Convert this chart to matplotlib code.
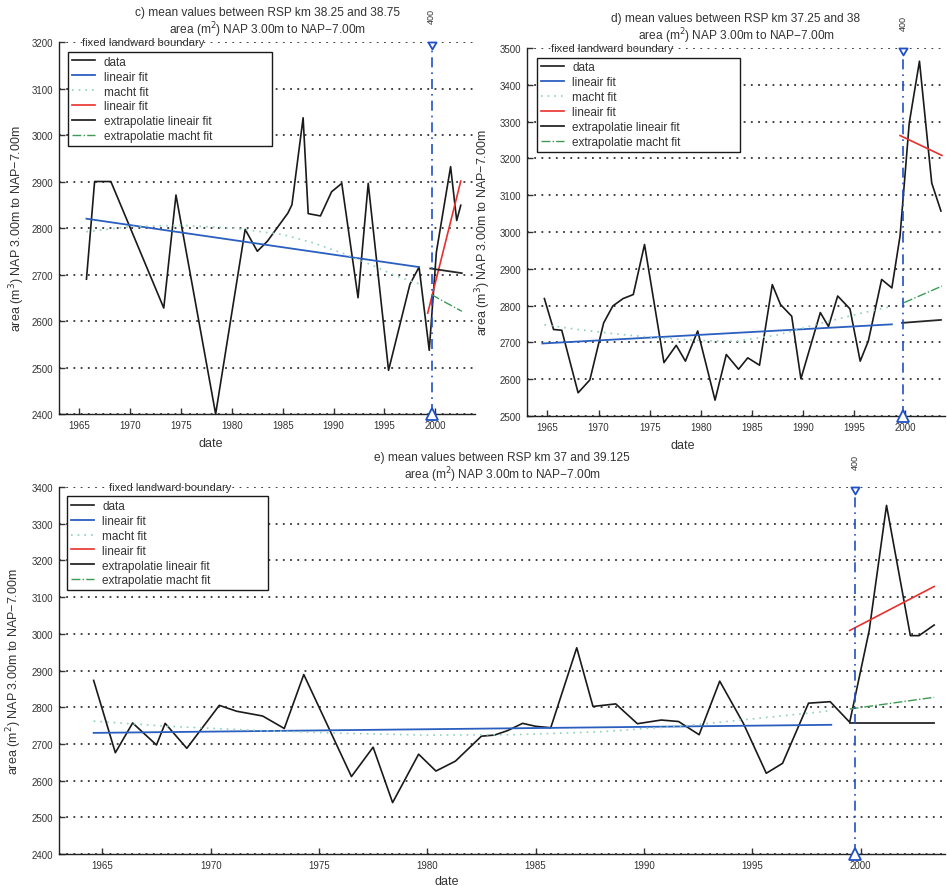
import matplotlib
matplotlib.use('Agg')
import matplotlib.pyplot as plt
import matplotlib.transforms as mtransforms
from matplotlib.path import Path

plt.rcParams['font.family'] = ['Liberation Sans', 'DejaVu Sans']

# ---------------- c) RSP km 38.25 - 38.75 ----------------
c_year = [1965.7, 1966.5, 1968.1, 1973.3, 1974.5, 1978.4, 1981.3, 1982.5, 1983.5,
          1985.5, 1985.9, 1987.0, 1987.5, 1988.7, 1989.8, 1990.8, 1992.4, 1993.4,
          1995.4, 1997.5, 1998.4, 1999.4, 2000.1, 2001.5, 2002.1, 2002.5]
c_area = [2690, 2900, 2900, 2628, 2871, 2400, 2797, 2750, 2772,
          2832, 2850, 3037, 2831, 2826, 2878, 2896, 2650, 2896,
          2494, 2679, 2716, 2537, 2748, 2932, 2816, 2849]
c_lin_x = [1965.7, 1998.4]
c_lin_y = [2820, 2716]
c_macht_x = [1965.7, 1970, 1975, 1980, 1985, 1988, 1991, 1994, 1996, 1998.4]
c_macht_y = [2792, 2803, 2806, 2800, 2786, 2768, 2745, 2718, 2698, 2680]
c_red_x = [1999.25, 2002.5]
c_red_y = [2617, 2901]
c_extlin_x = [1999.5, 2002.6]
c_extlin_y = [2713, 2703]
c_extmacht_x = [1999.6, 2001.0, 2002.6]
c_extmacht_y = [2657, 2640, 2621]

# ---------------- d) RSP km 37.25 - 38 ----------------
d_year = [1964.7, 1965.6, 1966.4, 1968.0, 1969.15, 1970.5, 1971.4, 1972.4, 1973.4,
          1974.5, 1976.4, 1977.6, 1978.5, 1979.7, 1981.4, 1982.5, 1983.7, 1984.6,
          1985.75, 1987.0, 1987.8, 1988.9, 1989.8, 1991.7, 1992.5, 1993.4, 1994.6,
          1995.6, 1996.4, 1997.7, 1998.7, 1999.5, 2000.4, 2001.4, 2002.6, 2003.5]
d_area = [2819, 2735, 2733, 2563, 2598, 2753, 2799, 2819, 2830,
          2966, 2645, 2692, 2649, 2731, 2543, 2667, 2627, 2658,
          2638, 2857, 2803, 2771, 2601, 2781, 2743, 2826, 2791,
          2649, 2704, 2871, 2848, 2989, 3296, 3464, 3133, 3057]
d_lin_x = [1964.5, 1998.7]
d_lin_y = [2697, 2749]
d_macht_x = [1964.7, 1968, 1972, 1976, 1980, 1983.5, 1987.5, 1991.5, 1995.5, 1998.7]
d_macht_y = [2748, 2735, 2722, 2712, 2705, 2703, 2720, 2750, 2778, 2798]
d_red_x = [1999.5, 2003.6]
d_red_y = [3262, 3208]
d_extlin_x = [1999.7, 2003.5]
d_extlin_y = [2753, 2761]
d_extmacht_x = [1999.9, 2003.6]
d_extmacht_y = [2808, 2853]

# ---------------- e) RSP km 37 - 39.125 ----------------
e_year = [1964.6, 1965.6, 1966.4, 1967.5, 1967.9, 1968.9, 1970.4, 1971.2, 1972.4,
          1973.4, 1974.3, 1976.5, 1977.5, 1978.4, 1979.6, 1980.4, 1981.3, 1982.5,
          1983.1, 1983.7, 1984.4, 1985.0, 1985.7, 1986.9, 1987.65, 1988.7, 1989.7,
          1990.8, 1991.6, 1992.55, 1993.5, 1994.6, 1995.65, 1996.4, 1997.6, 1998.6,
          1999.5, 2000.4, 2001.2, 2002.3, 2002.7, 2003.4]
e_area = [2873, 2676, 2757, 2697, 2756, 2688, 2805, 2789, 2776,
          2742, 2889, 2611, 2691, 2540, 2672, 2626, 2653, 2721,
          2724, 2736, 2756, 2748, 2744, 2962, 2802, 2809, 2755,
          2765, 2761, 2725, 2871, 2755, 2620, 2647, 2811, 2815,
          2759, 3009, 3350, 2995, 2995, 3024]
e_lin_x = [1964.6, 1998.65]
e_lin_y = [2730, 2752]
e_macht_x = [1964.6, 1968, 1972, 1976, 1980, 1984, 1988, 1992, 1995, 1998.6]
e_macht_y = [2762, 2748, 2737, 2729, 2724, 2725, 2733, 2750, 2768, 2790]
e_red_x = [1999.5, 2003.4]
e_red_y = [3009, 3129]
e_extlin_x = [1999.5, 2003.4]
e_extlin_y = [2756, 2756]
e_extmacht_x = [1999.5, 2003.4]
e_extmacht_y = [2795, 2827]

TITLE_AREA = 'area (m$^2$) NAP 3.00m to NAP\u22127.00m'
TOP_MARK = Path([(-1, 0), (1, 0), (0, -1.7), (-1, 0)],
                [Path.MOVETO, Path.LINETO, Path.LINETO, Path.CLOSEPOLY])


def panel(rect, title, ylab, yr, area, lin, macht, red, extlin, extmacht,
          boundary, ylim, leg_box, xlab_pos, ylab_x):
    ax = fig.add_axes(rect)
    ax.set_xlim(1963.0, 2003.9)
    ax.set_ylim(*ylim)
    ax.set_yticks(range(ylim[0], ylim[1] + 1, 100))
    ax.set_xticks(range(1965, 2001, 5))
    for s in ['top', 'right']:
        ax.spines[s].set_visible(False)
    for s in ['left', 'bottom']:
        ax.spines[s].set_linewidth(1.0)
        ax.spines[s].set_color('#222222')
    ax.tick_params(direction='in', length=4, width=1, labelsize=7,
                   colors='#333333', pad=4)
    ax.yaxis.grid(True, linestyle=(0, (1, 3)), color='#333333', linewidth=1.3)
    ax.set_axisbelow(True)

    ax.plot(yr, area, color='#1a1a1a', lw=1.2, label='data')
    ax.plot(lin[0], lin[1], color='#2a5fc0', lw=1.3, label='lineair fit')
    ax.plot(macht[0], macht[1], color='#8fd0c0', lw=1.2, ls=(0, (1, 3)),
            label='macht fit')
    ax.plot(red[0], red[1], color='#e8302e', lw=1.2, label='lineair fit')
    ax.plot(extlin[0], extlin[1], color='#262626', lw=1.3,
            label='extrapolatie lineair fit')
    ax.plot(extmacht[0], extmacht[1], color='#3c9a55', lw=1.0, ls='-.',
            label='extrapolatie macht fit')

    # fixed landward boundary
    ax.axvline(boundary, color='#2050c8', lw=1.2, ls=(0, (6, 3, 1, 3)))
    ax.plot([boundary], [ylim[1]], marker=TOP_MARK, ms=10, mfc='white',
            mec='#2050c8', mew=1.3, clip_on=False, zorder=5)
    ax.plot([boundary], [ylim[0]], marker='^', ms=9, mfc='white',
            mec='#2050c8', mew=1.3, clip_on=False, zorder=5)
    trans = mtransforms.blended_transform_factory(ax.transData, ax.transAxes)
    ax.text(boundary, 1.07, '400', transform=trans, rotation=90, fontsize=6.5,
            ha='center', va='center', color='#333333')
    ax.text(1965.3, ylim[1], 'fixed landward boundary', fontsize=8,
            ha='left', va='center', color='#333333')

    leg = ax.legend(loc='upper left', bbox_to_anchor=leg_box, mode='expand',
                    fontsize=8.5, frameon=True, fancybox=False, framealpha=1,
                    edgecolor='#1a1a1a', handlelength=2.0, handletextpad=0.7,
                    labelspacing=0.25, borderpad=0.3, borderaxespad=0)
    leg.get_frame().set_linewidth(1.0)
    for t in leg.get_texts():
        t.set_color('#333333')

    ax.set_title(title + '\n' + TITLE_AREA, fontsize=8.6, color='#333333',
                 pad=6.5, linespacing=1.05)
    ax.set_ylabel(ylab, fontsize=9, color='#333333')
    ax.yaxis.set_label_coords(ylab_x, 0.5)
    ax.set_xlabel('date', fontsize=9, color='#333333')
    ax.xaxis.set_label_coords(*xlab_pos)
    return ax


fig = plt.figure(figsize=(9.47, 8.87), dpi=100)

panel([0.0623, 0.5321, 0.4393, 0.4194],
      'c) mean values between RSP km 38.25 and 38.75',
      'area (m$^3$) NAP 3.00m to NAP\u22127.00m',
      c_year, c_area, (c_lin_x, c_lin_y), (c_macht_x, c_macht_y),
      (c_red_x, c_red_y), (c_extlin_x, c_extlin_y),
      (c_extmacht_x, c_extmacht_y), 1999.64, (2400, 3200),
      (0.022, 0.731, 0.49, 0.242), (0.364, -0.062), -0.077)

panel([0.5565, 0.5299, 0.4414, 0.4149],
      'd) mean values between RSP km 37.25 and 38',
      'area (m$^3$) NAP 3.00m to NAP\u22127.00m',
      d_year, d_area, (d_lin_x, d_lin_y), (d_macht_x, d_macht_y),
      (d_red_x, d_red_y), (d_extlin_x, d_extlin_y),
      (d_extmacht_x, d_extmacht_y), 1999.8, (2500, 3500),
      (0.024, 0.73, 0.486, 0.243), (0.373, -0.062), -0.081)

panel([0.0623, 0.0361, 0.9356, 0.4137],
      'e) mean values between RSP km 37 and 39.125',
      'area (m$^2$) NAP 3.00m to NAP\u22127.00m',
      e_year, e_area, (e_lin_x, e_lin_y), (e_macht_x, e_macht_y),
      (e_red_x, e_red_y), (e_extlin_x, e_extlin_y),
      (e_extmacht_x, e_extmacht_y), 1999.75, (2400, 3400),
      (0.009, 0.735, 0.227, 0.24), (0.438, -0.058), -0.0395)

fig.savefig('out.png', dpi=100)
